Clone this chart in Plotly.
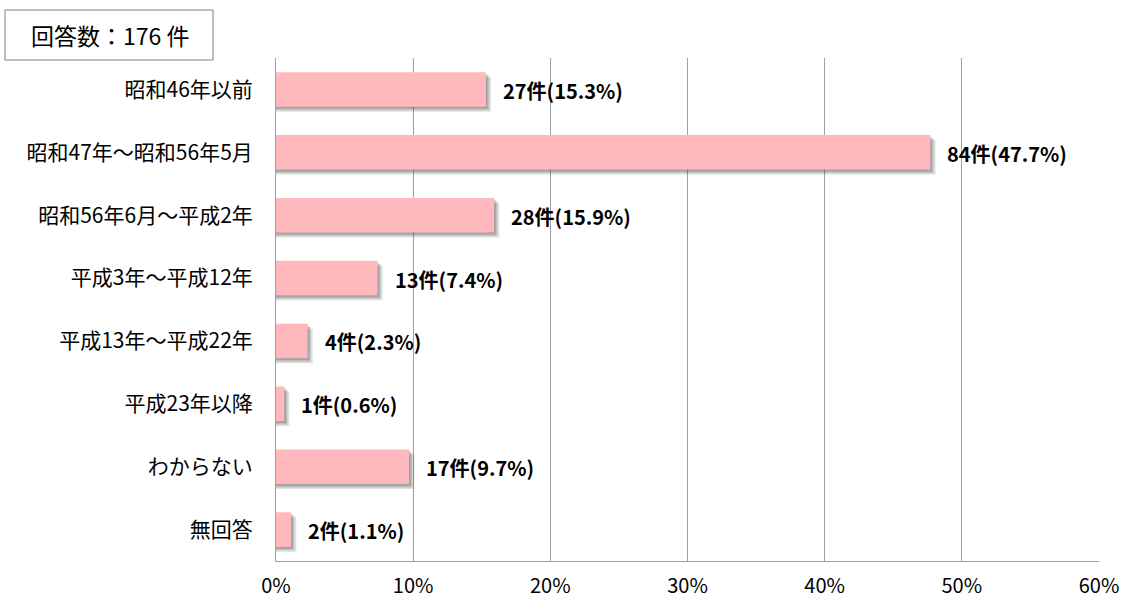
import plotly.graph_objects as go

categories = ["昭和46年以前", "昭和47年～昭和56年5月", "昭和56年6月～平成2年", "平成3年～平成12年",
              "平成13年～平成22年", "平成23年以降", "わからない", "無回答"]
counts = [27, 84, 28, 13, 4, 1, 17, 2]
percents = [15.3, 47.7, 15.9, 7.4, 2.3, 0.6, 9.7, 1.1]
tick_vals = [0, 10, 20, 30, 40, 50, 60]
tick_text = ["0%", "10%", "20%", "30%", "40%", "50%", "60%"]
total_label = "回答数：176 件"

FONT = "Noto Sans CJK JP"
BW = 0.55
W, H = 1126, 604
L, R, T, B = 276, 27, 58, 43
PW, PH = W - L - R, H - T - B


def px_x(px):
    return (px - L) / PW


def px_y(py):
    return (H - B - py) / PH


fig = go.Figure()
# soft shadow layers
for dx, dy, a in [(0.38, 0.08, 0.14), (0.24, 0.055, 0.2), (0.12, 0.03, 0.2)]:
    fig.add_trace(go.Bar(
        y=categories, x=[p + dx for p in percents], orientation="h",
        width=BW, offset=-BW / 2 + dy,
        marker=dict(color=f"rgba(50,50,50,{a})", line=dict(width=0)),
        hoverinfo="skip", showlegend=False))
fig.add_trace(go.Bar(
    y=categories, x=percents, orientation="h",
    width=BW, offset=-BW / 2,
    marker=dict(color="#FFB9BC", line=dict(width=0)),
    showlegend=False))

for c, n, p in zip(categories, counts, percents):
    fig.add_annotation(x=p, y=c, text=f"<b>{n}件({p}%)</b>", showarrow=False,
                       xanchor="left", xshift=15, yshift=-1,
                       font=dict(family=FONT, size=20, color="#000"))

fig.add_shape(type="rect", xref="paper", yref="paper",
              x0=px_x(5), x1=px_x(213), y0=px_y(60), y1=px_y(10),
              line=dict(color="#808080", width=1), fillcolor="white", layer="above")
fig.add_annotation(xref="paper", yref="paper", x=px_x(110), y=px_y(35),
                   xanchor="center", yanchor="middle", text=total_label, showarrow=False,
                   font=dict(family=FONT, size=23, color="#000"))

fig.update_layout(
    width=W, height=H, barmode="overlay",
    margin=dict(l=L, r=R, t=T, b=B),
    paper_bgcolor="white", plot_bgcolor="white",
    font=dict(family=FONT, size=20, color="#000"),
    xaxis=dict(range=[0, 60], tickvals=tick_vals, ticktext=tick_text,
               showgrid=True, gridcolor="#A0A0A0", gridwidth=1,
               showline=True, linecolor="#A0A0A0", linewidth=1,
               ticks="", ticklabelstandoff=7, tickfont=dict(size=20, family=FONT),
               zeroline=False, fixedrange=True, automargin=False),
    yaxis=dict(autorange="reversed", showline=True, linecolor="#A0A0A0", linewidth=1,
               ticks="", ticklabelstandoff=18, tickfont=dict(size=21, family=FONT),
               showgrid=False, fixedrange=True, automargin=False),
)

fig.write_html("out.html", config={"displayModeBar": False},
               post_script="document.body.style.margin='0';")
